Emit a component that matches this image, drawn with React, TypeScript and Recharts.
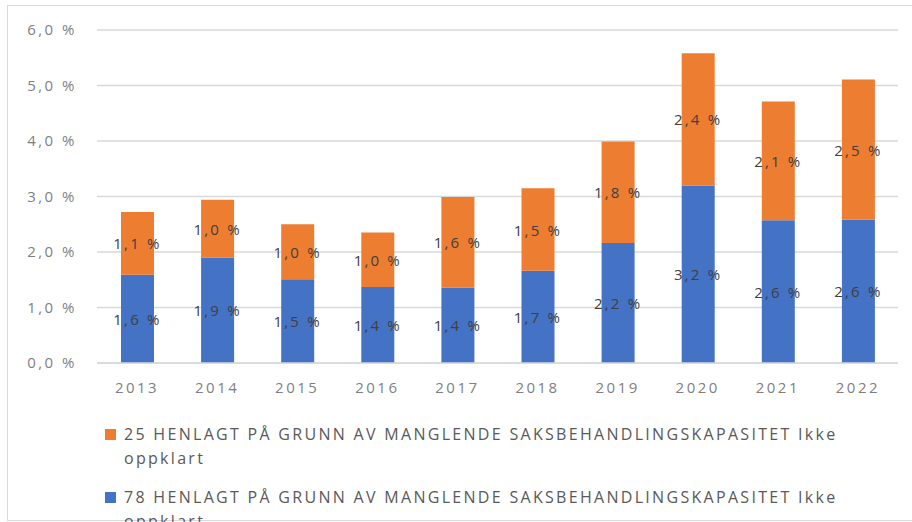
import { BarChart, Bar, XAxis, YAxis, CartesianGrid, LabelList, Legend } from "recharts"

const years = ["2013", "2014", "2015", "2016", "2017", "2018", "2019", "2020", "2021", "2022"]
const blueValues = [1.59, 1.9, 1.51, 1.37, 1.36, 1.66, 2.16, 3.2, 2.57, 2.58]
const orangeValues = [1.13, 1.04, 0.99, 0.98, 1.63, 1.49, 1.83, 2.38, 2.14, 2.53]
const yTicks = [0, 1, 2, 3, 4, 5, 6]
const blueName = "78 HENLAGT PÅ GRUNN AV MANGLENDE SAKSBEHANDLINGSKAPASITET Ikke oppklart"
const orangeName = "25 HENLAGT PÅ GRUNN AV MANGLENDE SAKSBEHANDLINGSKAPASITET Ikke oppklart"

const BLUE = "#4472C4"
const ORANGE = "#ED7D31"
const FONT = "'Open Sans', sans-serif"

const data = years.map((y, i) => ({ year: y, blue: blueValues[i], orange: orangeValues[i] }))

const pct = (v: any) => Number(v).toFixed(1).replace(".", ",") + " %"

const legendItems = [
  { name: orangeName, color: ORANGE },
  { name: blueName, color: BLUE }
]

// bar labels drawn as a single line (the default label wraps to bar width)
const barLabel = (props: any) => {
  const { x, y, width, height, value } = props
  return (
    <text
      x={Number(x) + Number(width) / 2}
      y={Number(y) + Number(height) / 2}
      textAnchor="middle"
      dominantBaseline="central"
      fill="#404040"
      fontSize={15}
      fontFamily={FONT}
      style={{ letterSpacing: 2.2 }}
    >
      {pct(value)}
    </text>
  )
}

function renderLegend() {
  return (
    <div style={{ fontFamily: FONT, fontSize: 16, color: "#595959", lineHeight: "24px", letterSpacing: 2.3 }}>
      {legendItems.map((it) => (
        <div key={it.name} style={{ position: "relative", paddingLeft: 19, width: 760, marginBottom: 15 }}>
          <span style={{ position: "absolute", left: 0, top: 7, width: 11, height: 11, background: it.color }} />
          {it.name}
        </div>
      ))}
    </div>
  )
}

export default function App() {
  return (
    <div style={{ position: "absolute", left: 0, top: 0, width: 912, height: 522, background: "#fff", overflow: "hidden" }}>
      <div style={{ position: "absolute", left: 7, top: 5, width: 920, height: 514, border: "1px solid #d9d9d9" }} />
      <BarChart
        width={912}
        height={522}
        data={data}
        margin={{ top: 30, right: 14, left: 17, bottom: 129 }}
        barSize={33}
      >
        <CartesianGrid vertical={false} stroke="#d9d9d9" strokeWidth={1.3} />
        <XAxis
          dataKey="year"
          height={30}
          axisLine={{ stroke: "#d9d9d9", strokeWidth: 1.3 }}
          tickLine={false}
          tickSize={0}
          tickMargin={19}
          tick={{ fill: "#7f7f7f", fontSize: 15, fontFamily: FONT, letterSpacing: 2.5 }}
        />
        <YAxis
          width={80}
          domain={[0, 6]}
          ticks={yTicks}
          axisLine={false}
          tickLine={false}
          tickSize={0}
          tickMargin={20}
          tickFormatter={pct}
          tick={{ fill: "#7f7f7f", fontSize: 15, fontFamily: FONT, letterSpacing: 2.5 }}
        />
        <Bar dataKey="blue" stackId="a" fill={BLUE} isAnimationActive={false} name={blueName}>
          <LabelList dataKey="blue" position="center" content={barLabel} />
        </Bar>
        <Bar dataKey="orange" stackId="a" fill={ORANGE} isAnimationActive={false} name={orangeName}>
          <LabelList dataKey="orange" position="center" content={barLabel} />
        </Bar>
        <Legend
          layout="vertical"
          align="center"
          verticalAlign="middle"
          content={renderLegend}
          wrapperStyle={{ left: 105, top: 422, width: 800 }}
        />
      </BarChart>
    </div>
  )
}
